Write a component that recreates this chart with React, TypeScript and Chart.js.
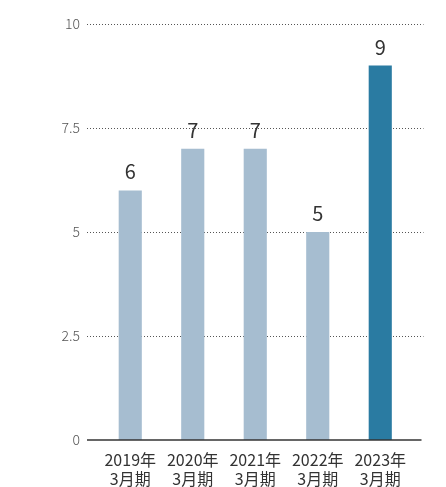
import React, { useEffect, useRef } from "react";
import { Chart, registerables } from "chart.js";

Chart.register(...registerables);

const categories: string[][] = [
  ["2019年", "3月期"],
  ["2020年", "3月期"],
  ["2021年", "3月期"],
  ["2022年", "3月期"],
  ["2023年", "3月期"],
];
const values: number[] = [6, 7, 7, 5, 9];
const barColors: string[] = ["#a6bdd0", "#a6bdd0", "#a6bdd0", "#a6bdd0", "#2a7ba2"];
const yTicks: number[] = [0, 2.5, 5, 7.5, 10];

const FONT = "'Noto Sans CJK JP', 'Noto Sans', sans-serif";

const gridPlugin = {
  id: "customGrid",
  beforeDatasetsDraw(chart: any) {
    const { ctx, chartArea } = chart;
    const y = chart.scales.y;
    ctx.save();
    ctx.lineWidth = 1;
    for (const t of yTicks) {
      if (t === 0) continue;
      const py = Math.round(y.getPixelForValue(t)) + 0.5;
      ctx.strokeStyle = "#555";
      ctx.setLineDash([1, 2]);
      ctx.beginPath();
      ctx.moveTo(chartArea.left - 12, py);
      ctx.lineTo(chartArea.right + 12, py);
      ctx.stroke();
    }
    ctx.restore();
  },
  afterDatasetsDraw(chart: any) {
    const { ctx, chartArea } = chart;
    const y = chart.scales.y;
    ctx.save();
    const py = y.getPixelForValue(0);
    ctx.strokeStyle = "#333";
    ctx.lineWidth = 1.5;
    ctx.beginPath();
    ctx.moveTo(chartArea.left - 12, py);
    ctx.lineTo(chartArea.right + 10, py);
    ctx.stroke();
    const meta = chart.getDatasetMeta(0);
    ctx.fillStyle = "#333";
    ctx.font = `20px ${FONT}`;
    ctx.textAlign = "center";
    ctx.textBaseline = "alphabetic";
    meta.data.forEach((bar: any, i: number) => {
      ctx.fillText(String(values[i]), bar.x, bar.y - 11);
    });
    ctx.restore();
  },
};

export default function App() {
  const ref = useRef<HTMLCanvasElement | null>(null);
  useEffect(() => {
    if (!ref.current) return;
    const chart = new Chart(ref.current, {
      type: "bar",
      data: {
        labels: categories,
        datasets: [
          {
            data: values,
            backgroundColor: barColors,
            borderWidth: 0,
            categoryPercentage: 1,
            barPercentage: 0.37,
          },
        ],
      },
      options: {
        animation: false,
        responsive: false,
        maintainAspectRatio: false,
        layout: { padding: { left: 0, right: 34.5, top: 24, bottom: 0 } },
        plugins: { legend: { display: false }, tooltip: { enabled: false } },
        scales: {
          x: {
            offset: true,
            grid: { display: false, drawTicks: false },
            border: { display: false },
            ticks: {
              color: "#333",
              padding: 10,
              maxRotation: 0,
              font: { family: FONT, size: 16, lineHeight: 1.2 },
            },
            afterFit: (s: any) => {
              s.height = 47;
            },
          },
          y: {
            min: 0,
            max: 10,
            grid: { display: false, drawTicks: false },
            border: { display: false },
            afterBuildTicks: (s: any) => {
              s.ticks = yTicks.map((v) => ({ value: v }));
            },
            ticks: {
              color: "#555",
              padding: 19,
              font: { family: FONT, size: 14, weight: "300", lineHeight: 0.6 },
              callback: (v: any) => String(v),
            },
            afterFit: (s: any) => {
              s.width = 99;
            },
          },
        },
      },
      plugins: [gridPlugin],
    });
    return () => chart.destroy();
  }, []);
  return (
    <div style={{ position: "fixed", left: 0, top: 0, width: 446, height: 487, background: "#fff" }}>
      <canvas ref={ref} width={446} height={487} />
    </div>
  );
}
